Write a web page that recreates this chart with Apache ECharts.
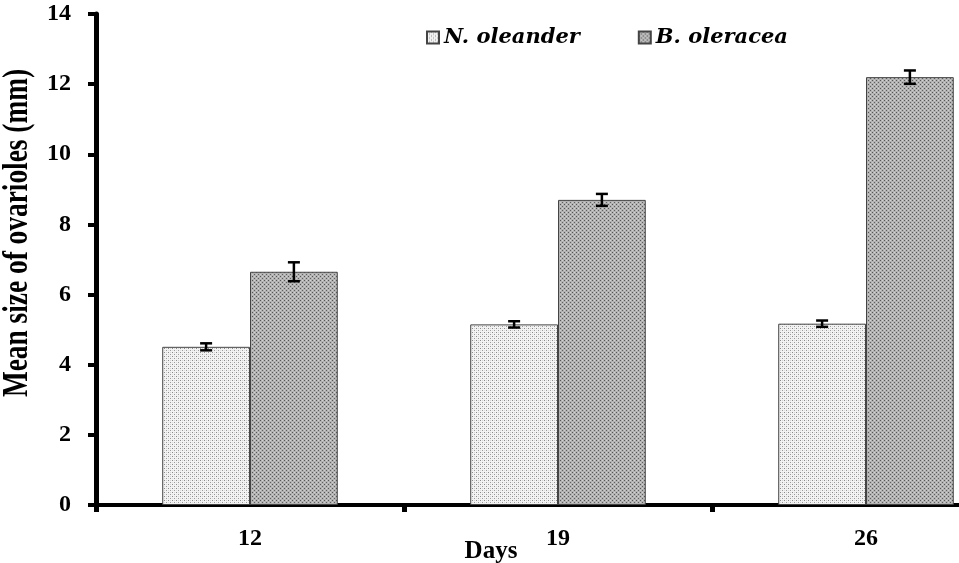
<!DOCTYPE html>
<html>
<head>
<meta charset="utf-8">
<script src="https://cdn.jsdelivr.net/npm/echarts@6/dist/echarts.min.js"></script>
<style>
html,body{margin:0;padding:0;background:#fff;}
#chart{width:959px;height:563px;}
</style>
</head>
<body>
<div id="chart"></div>
<script>
// ---- data ----
var categories = ['12', '19', '26'];
var seriesNames = ['N. oleander', 'B. oleracea'];
var oleanderMean = [4.51, 5.15, 5.17];
var oleanderErr  = [0.10, 0.09, 0.09];
var oleraceaMean = [6.65, 8.70, 12.20];
var oleraceaErr  = [0.27, 0.17, 0.19];
var yTicks = { min: 0, max: 14, interval: 2 };

// ---- patterns ----
function makePattern(bg, dots) {
  var c = document.createElement('canvas');
  c.width = 4; c.height = 4;
  var ctx = c.getContext('2d');
  ctx.fillStyle = bg; ctx.fillRect(0, 0, 4, 4);
  dots.forEach(function (d) { ctx.fillStyle = d[2]; ctx.fillRect(d[0], d[1], 1, 1); });
  return { image: c, repeat: 'repeat' };
}
var patN = makePattern('#f3f3f3', [[0,0,'#8a8a8a'],[2,2,'#9a9a9a'],[2,0,'#d4d4d4'],[0,2,'#dddddd']]);
var patB = makePattern('#b2b2b2', [[0,0,'#555555'],[2,2,'#5e5e5e'],[2,0,'#d2d2d2'],[0,2,'#cccccc']]);

var catGap = 0.43;

function errData(means, errs) {
  return means.map(function (m, i) { return [i, m, errs[i]]; });
}
function errRender(side) {
  return function (params, api) {
    var idx = api.value(0), v = api.value(1), e = api.value(2);
    var cx0 = api.coord([idx, 0])[0];
    var band = api.size([1, 0])[0];
    var barW = band * (1 - catGap) / 2;
    var cx = cx0 + side * barW / 2;
    var yt = api.coord([idx, v + e])[1];
    var yb = api.coord([idx, v - e])[1];
    var hw = 6;
    var st = { stroke: '#000', lineWidth: 2.5 };
    return {
      type: 'group',
      children: [
        { type: 'line', shape: { x1: cx, y1: yt, x2: cx, y2: yb }, style: st },
        { type: 'line', shape: { x1: cx - hw, y1: yt, x2: cx + hw, y2: yt }, style: st },
        { type: 'line', shape: { x1: cx - hw, y1: yb, x2: cx + hw, y2: yb }, style: st }
      ]
    };
  };
}

var chart = echarts.init(document.getElementById('chart'), null, { renderer: 'canvas' });
var serif = '"Liberation Serif", "Times New Roman", serif';
chart.setOption({
  backgroundColor: '#fff',
  animation: false,
  legend: {
    data: seriesNames,
    left: 421,
    top: 22,
    itemWidth: 12,
    itemHeight: 12,
    itemGap: 58,
    icon: 'rect',
    textStyle: { fontFamily: '"DejaVu Serif", serif', fontWeight: 'bold', fontStyle: 'italic', fontSize: 21, color: '#000' }
  },
  grid: { left: 96, width: 924, top: 14, height: 491, containLabel: false, outerBoundsMode: 'none' },
  xAxis: {
    type: 'category',
    data: categories,
    name: 'Days',
    nameLocation: 'middle',
    nameGap: 34,
    nameMoveOverlap: false,
    nameTextStyle: { fontFamily: serif, fontWeight: 'bold', fontSize: 25, color: '#000', padding: [0, 134, 0, 0] },
    axisLine: { lineStyle: { color: '#000', width: 4 } },
    axisTick: { show: true, length: 7, lineStyle: { color: '#000', width: 5 } },
    axisLabel: { margin: 22, fontFamily: serif, fontWeight: 'bold', fontSize: 24, color: '#000' },
    splitLine: { show: false }
  },
  yAxis: {
    type: 'value',
    min: yTicks.min, max: yTicks.max, interval: yTicks.interval,
    axisLine: { show: true, lineStyle: { color: '#000', width: 5 } },
    axisTick: { show: true, length: 8, lineStyle: { color: '#000', width: 4 } },
    axisLabel: { margin: 25, fontFamily: serif, fontWeight: 'bold', fontSize: 24, color: '#000' },
    splitLine: { show: false }
  },
  graphic: [{
    type: 'text',
    x: 18, y: 233,
    rotation: Math.PI / 2,
    scaleX: 0.76,
    style: {
      text: 'Mean size of ovarioles (mm)',
      fontFamily: serif, fontWeight: 'bold', fontSize: 36, fill: '#000',
      textAlign: 'center', textVerticalAlign: 'middle'
    }
  }],
  series: [
    {
      name: seriesNames[0], type: 'bar', data: oleanderMean,
      barGap: '0%', barCategoryGap: (catGap * 100) + '%',
      itemStyle: { color: patN, borderColor: '#444', borderWidth: 1 }
    },
    {
      name: seriesNames[1], type: 'bar', data: oleraceaMean,
      barGap: '0%', barCategoryGap: (catGap * 100) + '%',
      itemStyle: { color: patB, borderColor: '#444', borderWidth: 1 }
    },
    {
      type: 'custom', renderItem: errRender(-1), data: errData(oleanderMean, oleanderErr),
      encode: { x: 0, y: 1 }, z: 10, silent: true
    },
    {
      type: 'custom', renderItem: errRender(1), data: errData(oleraceaMean, oleraceaErr),
      encode: { x: 0, y: 1 }, z: 10, silent: true
    }
  ]
});
</script>
</body>
</html>
